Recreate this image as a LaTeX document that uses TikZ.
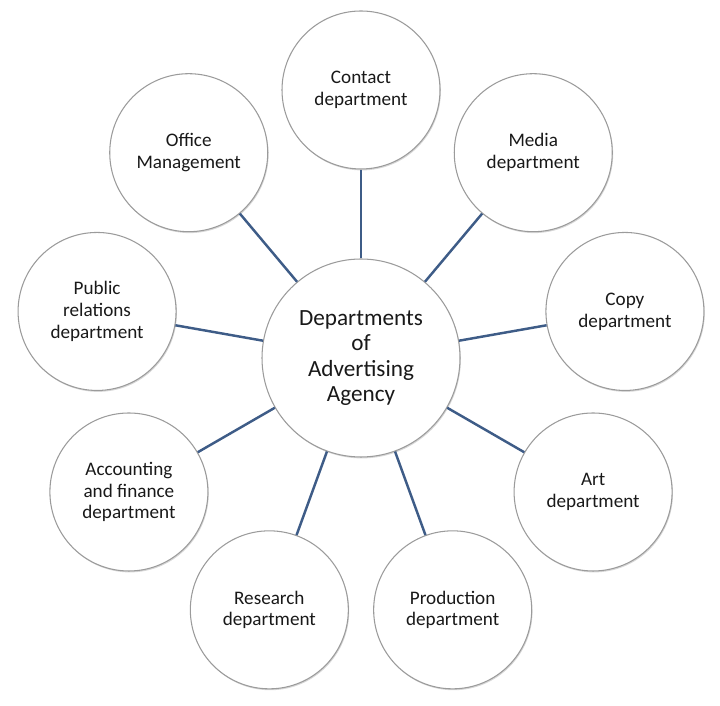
\documentclass[tikz,border=0pt]{standalone}
\usepackage{fontspec}
\setmainfont{Carlito}
\usepackage{xcolor}
\usepackage{tikz}
\usetikzlibrary{shapes, arrows, positioning, calc, shadows}

\definecolor{linkblue}{RGB}{62,92,135}
\definecolor{rimgray}{RGB}{155,155,155}

\begin{document}
\begin{tikzpicture}[
    dept/.style={circle, draw=rimgray, line width=0.6pt, fill=white,
        minimum size=3.16cm, inner sep=0pt, align=center, text=black!90,
        font=\fontsize{10.9}{12.4}\selectfont,
        drop shadow={shadow xshift=0.5pt, shadow yshift=-0.8pt, opacity=0.35, fill=black!45}},
    hub/.style={dept, minimum size=3.96cm, font=\fontsize{13.2}{14.4}\selectfont},
    link/.style={linkblue, line width=1.4pt}
]
\useasboundingbox (0,0) rectangle (14.4,14.12);

% Center
\node[hub] (hub) at (7.22,6.96) {Departments\\of\\Advertising\\Agency};

% Departments around the center, 40 degrees apart
\node[dept] (contact) at ($(hub)+(90:5.36)$) {Contact\\department};
\node[dept] (media) at ($(hub)+(50:5.36)$) {Media\\department};
\node[dept] (copy) at ($(hub)+(10:5.36)$) {Copy\\department};
\node[dept] (art) at ($(hub)+(-30:5.36)$) {Art\\department};
\node[dept] (production) at ($(hub)+(-70:5.36)$) {Production\\department};
\node[dept] (research) at ($(hub)+(-110:5.36)$) {Research\\department};
\node[dept] (accounting) at ($(hub)+(-150:5.36)$) {Accounting\\and finance\\department};
\node[dept] (public) at ($(hub)+(170:5.36)$) {Public\\relations\\department};
\node[dept] (office) at ($(hub)+(130:5.36)$) {Office\\Management};

% Links
\draw[link] (hub) -- (contact);
\draw[link] (hub) -- (media);
\draw[link] (hub) -- (copy);
\draw[link] (hub) -- (art);
\draw[link] (hub) -- (production);
\draw[link] (hub) -- (research);
\draw[link] (hub) -- (accounting);
\draw[link] (hub) -- (public);
\draw[link] (hub) -- (office);
\end{tikzpicture}
\end{document}
